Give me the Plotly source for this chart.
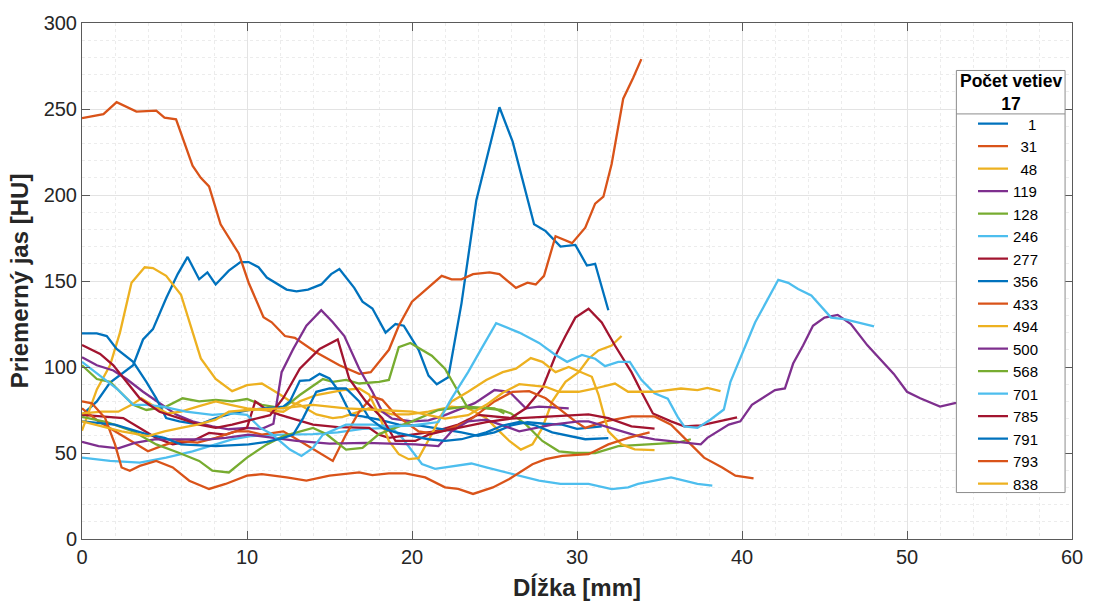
import plotly.graph_objects as go

# Legend labels (number of branches) and the MATLAB default colour order
labels = ["1", "31", "48", "119", "128", "246", "277", "356", "433",
          "494", "500", "568", "701", "785", "791", "793", "838"]
palette = ["#0072BD", "#D95319", "#EDB120", "#7E2F8E", "#77AC30", "#4DBEEE", "#A2142F"]

x_1 = [0, 0.9, 1.7, 2.5, 3.1, 3.7, 4.3, 5.1, 5.8, 6.4, 7.1, 7.6, 8.1, 8.9, 9.6, 10.1, 10.7, 11.2, 11.9, 12.4,
       13.0, 13.7, 14.5, 15.1, 15.6, 16.5, 17.0, 17.6, 18.4, 19.0, 19.5, 20.4, 21.0, 21.5, 22.2, 23.0, 23.9,
       25.3, 26.1, 27.4, 28.1, 29.0, 29.9, 30.6, 31.1, 31.9]
y_1 = [72, 80, 91, 97, 101, 116, 122, 140, 154, 164, 151, 155, 148, 156, 161, 161, 158, 152, 148, 145,
       144, 145, 148, 154, 157, 146, 138, 134, 120, 125, 124, 110, 95, 90, 94, 137, 197,
       251, 231, 183, 179, 170, 171, 159, 160, 133]

x_31 = [0, 1.3, 2.1, 3.3, 4.5, 5.0, 5.7, 6.2, 6.7, 7.2, 7.7, 8.4, 9.1, 9.5, 10.1, 11.0, 11.5, 12.3, 12.9,
        14.1, 15.6, 16.8, 17.5, 18.0, 18.6, 19.2, 20.0, 20.6, 21.2, 21.8, 22.4, 23.0, 23.7, 24.7, 25.3,
        26.3, 27.0, 27.5, 28.0, 28.7, 29.7, 30.5, 31.1, 31.6, 32.1, 32.8, 33.4, 33.9]
y_31 = [244.7, 247, 254, 248.5, 249, 245, 244, 231, 217, 210, 205, 183, 172, 166, 149, 129, 126, 118, 117,
        109, 101, 96, 97, 103, 110, 124, 138, 143, 148, 153, 151, 151, 154, 155, 154,
        146, 149, 148, 153, 176, 172, 181, 195, 199, 218, 256, 268, 279]

x_48 = [0, 0.9, 1.7, 2.3, 3.0, 3.8, 4.3, 5.1, 6.0, 6.7, 7.2, 8.1, 9.1, 10.0, 10.9, 12.0, 12.8, 13.2, 14.2,
        15.2, 15.8, 16.8, 17.4, 18.8, 19.8, 21.0, 22.4, 23.4, 24.5, 25.3, 25.9, 26.6, 27.3, 27.9, 28.5,
        29.3, 30.1, 30.7, 31.3, 32.1, 32.7]
y_48 = [63, 87, 101, 120, 149, 158, 157.5, 153, 142, 120, 105, 93, 86, 89.5, 90.4, 84, 79, 78, 72.4,
        70.3, 71, 74, 76, 72.4, 72.4, 74, 77, 76, 70.3, 62.6, 57, 52, 55, 64.6, 80,
        91.4, 97, 104.8, 109.6, 112.5, 118]

x_119 = [0, 0.9, 1.9, 2.7, 3.7, 4.7, 5.7, 6.7, 7.9, 8.9, 10.0, 10.9, 11.6, 12.1, 12.8, 13.6, 14.5, 15.2,
         15.9, 16.8, 17.6, 18.2, 18.8, 20.0, 21.0, 22.0, 23.0, 23.8, 25.0, 25.9, 26.9, 27.7, 28.5, 29.5]
y_119 = [105.7, 101, 98, 93, 85.6, 79, 72.4, 68.4, 65.5, 63.8, 64.6, 64, 67, 97, 110.5, 124, 133, 126,
         118, 99, 85.6, 74, 70, 68.4, 69, 72, 76, 79, 86.6, 85.6, 76, 77, 76.5, 76]

x_128 = [0, 0.9, 1.7, 2.3, 3.1, 3.9, 5.1, 6.1, 7.1, 8.1, 9.1, 10.0, 10.9, 12.2, 13.2, 14.6, 15.2, 16.0,
         16.8, 18.0, 18.6, 19.2, 19.9, 21.2, 22.0, 22.8, 23.4, 24.5, 25.4, 26.0, 26.9, 27.9, 28.9, 29.9,
         31.1, 32.5, 34.3, 36.1, 36.9]
y_128 = [101, 93, 91.4, 85.6, 78, 75, 77, 81.8, 80, 80.9, 80, 81.4, 78, 76, 83.7, 93, 91.4, 92.5,
         90.4, 91.4, 92.5, 111.5, 114, 106.6, 99, 85.6, 76, 76, 75, 73, 66.6, 57, 51, 50,
         50, 54, 55, 56, 58]

x_246 = [0, 1.7, 3.5, 5.1, 6.7, 8.1, 9.1, 10.2, 12.2, 14.0, 15.5, 17.0, 18.8, 19.4, 20.0, 20.6, 21.4, 22.0,
         23.6, 24.5, 26.0, 27.7, 29.0, 30.7, 32.1, 33.1, 33.7, 35.7, 37.3, 38.2]
y_246 = [47.3, 45.4, 44.4, 47.3, 51, 55, 57.9, 59.8, 60.7, 61, 62, 64, 64.6, 58.8, 51, 43.6, 40.8, 41.6,
         43.9, 41.6, 37.9, 33.9, 32, 32, 29, 30, 32, 35.8, 32, 31]

x_277 = [0, 1.3, 2.5, 3.5, 4.5, 5.5, 6.7, 7.7, 8.7, 10.0, 10.5, 11.2, 12.0, 14.0, 15.5, 17.4, 18.0, 18.6,
         20.0, 21.4, 22.8, 24.0, 26.0, 26.9, 27.9, 28.7, 29.3, 29.9, 30.7, 31.5, 32.3, 33.3, 33.9, 34.6,
         35.7, 36.5, 37.5, 39.7]
y_277 = [72.2, 71, 70.3, 64.6, 58.8, 55, 57, 61.7, 60.7, 64.6, 80, 75, 72.2, 66.5, 65, 64.6, 60.7, 58.8,
         60.7, 62.6, 66.5, 72.2, 70.3, 76, 87.5, 106.7, 118, 128.7, 133.9, 125.9, 112.5, 97, 85.6, 73,
         68.4, 65.5, 66, 70.7]

x_356 = [0, 0.9, 1.5, 2.1, 3.1, 3.9, 4.5, 5.1, 5.9, 7.1, 8.1, 9.1, 10.1, 11.2, 12.2, 12.6, 13.2, 13.8, 14.4,
         15.0, 15.6, 16.3, 17.0, 18.0, 19.2, 20.4, 21.4, 23.0, 24.0, 25.0, 26.0, 27.0, 28.0, 29.1, 30.0, 31.5]
y_356 = [119.5, 119.5, 118, 110.5, 103, 91.4, 81.8, 70.3, 68.4, 66.5, 70.3, 73, 75, 76, 77, 80, 92, 92.4, 96,
         93.3, 85.6, 72.2, 71.3, 69.4, 66.5, 66, 64.6, 62, 60, 62, 66, 68, 67, 66.5, 64, 65.5]

x_433 = [0, 1.0, 2.0, 3.0, 4.0, 4.8, 5.8, 7.0, 8.1, 9.3, 10.1, 10.9, 12.2, 13.2, 14.2, 15.2, 16.0, 16.8,
         17.6, 18.2, 19.0, 19.8, 20.4, 21.0, 22.0, 23.4, 25.0, 26.1, 27.1, 28.1, 28.9, 29.9, 30.5, 31.7,
         33.3, 34.7, 35.7, 36.7, 37.7, 38.8, 39.6, 40.7]
y_433 = [76, 68.4, 62.6, 57, 51, 54, 57, 56, 58.8, 62.6, 62.6, 60.7, 62.6, 57, 51, 45.4, 60.7, 74,
         82.8, 80.9, 72.2, 66.5, 62.6, 61.7, 63, 68.4, 80, 85.6, 86, 81.8, 76, 68.4, 64.6, 68.4,
         71.3, 71.3, 66.5, 57, 47.3, 41.6, 36.8, 35.2]

x_494 = [0, 1.2, 2.2, 3.0, 3.6, 4.4, 5.2, 6.0, 7.0, 8.1, 9.0, 10.0, 11.0, 12.2, 13.2, 14.2, 15.8, 16.8,
         17.4, 18.0, 18.6, 19.2, 19.8, 20.4, 21.2, 21.8, 22.4, 23.4, 24.5, 25.5, 26.3, 27.2, 27.9, 28.7,
         29.5, 30.3, 30.9, 31.3, 31.9, 32.7, 33.5, 34.7]
y_494 = [73, 74, 74, 78, 81.8, 77, 73, 74, 77, 80, 78, 76, 75, 74, 80, 83.7, 86.6, 87.5,
         84, 72.2, 57, 49.3, 46.4, 47, 61, 72.4, 80, 85.6, 92.4, 97, 99, 105.2, 103, 97,
         100, 97, 94.3, 84, 62.6, 55, 52.1, 51.7]

x_500 = [0, 1.0, 2.2, 3.2, 4.4, 6.0, 7.7, 8.7, 10.1, 11.5, 13.0, 15.0, 17.2, 20.2, 21.6, 22.4, 23.4, 24.5,
         25.5, 26.5, 28.5, 30.1, 30.7, 31.7, 32.7, 33.7, 34.7, 36.7, 37.5, 37.9, 39.2, 39.9, 40.6, 42.0,
         42.6, 43.1, 43.7, 44.3, 45.0, 45.8, 46.6, 47.6, 48.4, 49.2, 50.0, 50.8, 52.0, 52.9, 54.0]
y_500 = [56.5, 54, 52.7, 55.9, 57.9, 57.9, 57.9, 58.8, 60.7, 59, 57, 55.5, 55.9, 55, 54, 62.6, 68.4, 69.4,
         66, 62.6, 66.5, 68.4, 68.4, 65.5, 62.6, 59.8, 57.9, 56, 55, 58.8, 66.5, 68.4, 78, 86.6,
         87.5, 102, 112.5, 124, 128.7, 130.3, 125, 112.6, 104, 96, 85.6, 81.8, 77, 79, 80]

x_568 = [0, 1.5, 3.1, 4.5, 5.9, 7.1, 7.9, 8.9, 10.0, 11.2, 12.2, 13.2, 14.0, 14.8, 16.0, 17.0, 18.0, 20.0,
         21.6, 23.2, 25.0, 25.6]
y_568 = [71, 68, 62.6, 55, 50, 45.4, 39.7, 38.7, 47.3, 55, 59.8, 62.6, 64.6, 61, 52, 53, 61, 68.4,
         75, 77, 76, 73]

x_701 = [0, 1.1, 2.1, 3.1, 3.9, 4.9, 6.3, 7.9, 9.1, 10.0, 10.8, 11.5, 12.6, 13.3, 14.0, 14.6, 16.0, 17.6,
         18.6, 20.0, 21.6, 22.4, 23.4, 24.2, 25.1, 26.5, 27.7, 28.7, 29.4, 30.3, 31.1, 31.7, 32.5, 33.2,
         33.9, 34.7, 35.5, 36.1, 36.5, 37.3, 38.1, 38.9, 39.3, 40.8, 42.2, 42.8, 43.4, 44.2, 45.4, 46.2,
         47.2, 48.0]
y_701 = [103, 95, 87.5, 78, 78, 77, 74, 72.2, 73, 72.2, 64.6, 61, 52, 48.3, 53, 60.7, 66.5, 66.5,
         65.5, 66, 68, 81.8, 97, 110.5, 125.5, 120, 114, 107, 103, 107, 104.8, 100.5, 103, 103,
         92.5, 84.7, 81.6, 71, 65.5, 64.6, 69.5, 75.3, 91.4, 126, 150.7, 148.9, 145.4, 141.6, 128.7, 127.8,
         125.5, 123.6]

x_785 = [0, 1.1, 1.9, 2.7, 3.5, 4.7, 5.9, 7.1, 8.1, 9.1, 10.3, 11.4, 12.2, 13.2, 14.4, 15.5, 16.2, 17.2,
         18.2, 19.0, 20.2, 21.0, 22.0, 23.0, 24.5, 26.0, 28.0, 30.0, 30.7, 31.9, 33.3, 34.7]
y_785 = [112.8, 107.6, 101, 91.4, 81.8, 74, 70.3, 66.5, 64.6, 66.5, 69.4, 72, 82, 99, 110.5, 116, 93, 80,
         70.3, 57, 57, 60.7, 63, 65, 68, 70, 71, 72, 72.4, 70.3, 65.5, 64.2]

x_791 = [0, 2.0, 4.0, 5.0, 6.0, 8.1, 10.1, 11.2, 12.2, 12.8, 13.4, 14.2, 15.0, 16.0, 16.8, 17.4, 18.2, 19.0,
         20.0, 21.0, 22.0, 23.0, 24.5, 25.5, 26.5, 27.5, 28.5, 30.5, 31.9]
y_791 = [68.4, 66.5, 60.7, 58.8, 55, 54, 55, 56.5, 58.8, 60.7, 70.3, 85.6, 87.5, 87.5, 80, 70.3, 64.6, 62,
         60, 58, 57, 58, 62, 66, 68, 66, 62, 58, 58.6]

x_793 = [0, 0.6, 1.4, 2.0, 2.4, 2.9, 3.5, 4.5, 5.5, 6.5, 7.7, 8.7, 10.0, 10.9, 12.4, 13.6, 15.0, 16.8,
         17.6, 18.6, 19.6, 20.8, 22.0, 22.8, 23.7, 24.9, 25.9, 27.3, 28.1, 29.1, 30.7, 31.9, 33.1, 34.4]
y_793 = [80, 78.9, 70.3, 55, 41.6, 39.7, 42.5, 45.4, 41.6, 33.9, 29.1, 32, 36.8, 37.7, 35.8, 33.9, 36.8, 38.7,
         37.2, 38.1, 38.1, 35.8, 30, 29.1, 26.2, 30, 34.9, 43.5, 46.4, 48.3, 49.3, 55, 58.8, 62]

x_838 = [0, 1.2, 2.4, 4.0, 5.0, 6.0, 7.0, 8.1, 8.9, 10.1, 12.0, 14.0, 16.0, 18.0, 20.0, 21.0, 22.0, 23.4,
         24.5, 25.5, 26.5, 28.1, 28.9, 30.1, 31.1, 32.3, 33.1, 34.7, 36.3, 37.3, 37.9, 38.7]
y_838 = [68.4, 65.5, 62.6, 59.8, 62.6, 64.6, 66.5, 69.4, 74, 75, 76, 78, 76, 75, 74, 72, 70, 72,
         78, 85, 90, 88.5, 85.6, 85.6, 87.5, 90.4, 85.6, 85.6, 87.5, 86.6, 87.9, 86]

xs = [x_1, x_31, x_48, x_119, x_128, x_246, x_277, x_356, x_433,
      x_494, x_500, x_568, x_701, x_785, x_791, x_793, x_838]
ys = [y_1, y_31, y_48, y_119, y_128, y_246, y_277, y_356, y_433,
      y_494, y_500, y_568, y_701, y_785, y_791, y_793, y_838]

FONT = "Liberation Sans, Arial, Helvetica, sans-serif"
AXIS_GREY = "#5a5a5a"

fig = go.Figure()
width_lab = max(len(s) for s in labels)
for i, (lab, xv, yv) in enumerate(zip(labels, xs, ys)):
    shown = "\u2002" * (width_lab - len(lab)) + lab  # num2str-style padding
    fig.add_trace(go.Scatter(
        x=xv, y=yv, mode="lines", name=shown,
        line=dict(color=palette[i % len(palette)], width=2.3),
    ))

axis_common = dict(
    showline=True, linecolor=AXIS_GREY, linewidth=1, mirror="ticks",
    ticks="inside", ticklen=8, tickcolor=AXIS_GREY,
    showgrid=True, gridcolor="#e3e3e3", gridwidth=1,
    zeroline=False,
    tickfont=dict(family=FONT, size=20, color="#262626"),
)

# Legend frame: box over the plot, with a rule under the title block
box_x0, box_x1 = 0.8832, 0.9930
box_y0, box_y1 = 0.090, 0.908
rule_y = 0.8238

fig.update_layout(
    width=1095, height=610,
    margin=dict(l=82, r=20, t=17, b=71),
    paper_bgcolor="white", plot_bgcolor="white",
    xaxis=dict(range=[0, 60], dtick=10, **axis_common,
               minor=dict(dtick=2, showgrid=True, gridcolor="#ececec", griddash="dot", ticks=""),
               title=dict(text="<b>Dĺžka [mm]</b>", font=dict(family=FONT, size=24, color="#262626"),
                          standoff=12)),
    yaxis=dict(range=[0, 300], dtick=50, **axis_common,
               minor=dict(dtick=10, showgrid=True, gridcolor="#ececec", griddash="dot", ticks=""),
               title=dict(text="<b>Priemerný jas [HU]</b>", font=dict(family=FONT, size=24, color="#262626"),
                          standoff=8)),
    legend=dict(
        x=0.9000, y=0.8364, xanchor="left", yanchor="top",
        bgcolor="rgba(0,0,0,0)", borderwidth=0,
        font=dict(family=FONT, size=15, color="black"),
        tracegroupgap=0,
    ),
    shapes=[
        dict(type="rect", xref="paper", yref="paper", x0=box_x0, x1=box_x1, y0=box_y0, y1=box_y1,
             line=dict(color="#8c8c8c", width=1), fillcolor="white", layer="above"),
        dict(type="line", xref="paper", yref="paper", x0=box_x0, x1=box_x1, y0=rule_y, y1=rule_y,
             line=dict(color="#8c8c8c", width=1), layer="above"),
    ],
    annotations=[
        dict(xref="paper", yref="paper", x=(box_x0 + box_x1) / 2, y=(box_y1 + rule_y) / 2,
             xanchor="center", yanchor="middle", showarrow=False, align="center",
             text="<b>Počet vetiev</b><br><b>%d</b>" % len(labels),
             font=dict(family=FONT, size=17.5, color="black")),
    ],
)

fig.write_html("out.html")
